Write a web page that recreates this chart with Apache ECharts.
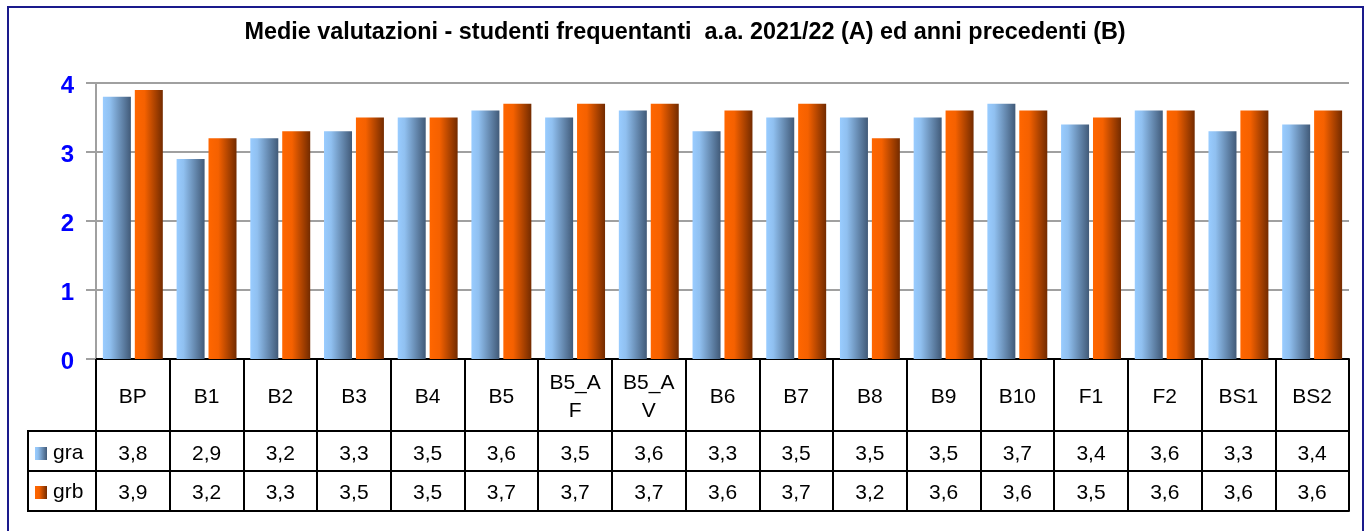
<!DOCTYPE html>
<html>
<head>
<meta charset="utf-8">
<title>Medie valutazioni</title>
<script src="https://cdn.jsdelivr.net/npm/echarts@6/dist/echarts.min.js"></script>
<style>
  html, body { margin: 0; padding: 0; background: #fff; }
  #main { width: 1370px; height: 531px; }
</style>
</head>
<body>
<div id="main"></div>
<script>
const categories = ['BP', 'B1', 'B2', 'B3', 'B4', 'B5', 'B5_AF', 'B5_AV', 'B6', 'B7', 'B8', 'B9', 'B10', 'F1', 'F2', 'BS1', 'BS2'];
const gra = [3.8, 2.9, 3.2, 3.3, 3.5, 3.6, 3.5, 3.6, 3.3, 3.5, 3.5, 3.5, 3.7, 3.4, 3.6, 3.3, 3.4];
const grb = [3.9, 3.2, 3.3, 3.5, 3.5, 3.7, 3.7, 3.7, 3.6, 3.7, 3.2, 3.6, 3.6, 3.5, 3.6, 3.6, 3.6];
const yTicks = [0, 1, 2, 3, 4];

const fmt = (v) => String(v).replace('.', ',');

const blueGrad = new echarts.graphic.LinearGradient(0, 0, 1, 0, [
  { offset: 0, color: '#99CCFF' },
  { offset: 0.25, color: '#90C0F0' },
  { offset: 1, color: '#415A78' }
]);
const orangeGrad = new echarts.graphic.LinearGradient(0, 0, 1, 0, [
  { offset: 0, color: '#FF6600' },
  { offset: 0.35, color: '#F56100' },
  { offset: 1, color: '#732B00' }
]);

const tableLine = { show: true, lineStyle: { color: '#000', width: 2 } };
const cellText = { fontFamily: 'Arial', fontSize: 21, color: '#000', verticalAlign: 'middle' };

const chartDom = document.getElementById('main');
const myChart = echarts.init(chartDom);

const option = {
  animation: false,
  title: {
    text: 'Medie valutazioni - studenti frequentanti  a.a. 2021/22 (A) ed anni precedenti (B)',
    left: 'center',
    top: 16,
    textStyle: { fontFamily: 'Arial', fontWeight: 'bold', fontSize: 23.4, color: '#000' }
  },
  legend: {
    orient: 'vertical',
    left: 30,
    top: 438,
    itemGap: 18,
    itemWidth: 12,
    itemHeight: 13,
    icon: 'rect',
    selectedMode: false,
    textStyle: { fontFamily: 'Arial', fontSize: 21, color: '#000', padding: [0, 0, 0, 1] },
    data: ['gra', 'grb']
  },
  grid: { left: 96, right: 21, top: 83, bottom: 172 },
  xAxis: [
    {
      type: 'category',
      data: categories,
      position: 'bottom',
      axisLine: tableLine,
      axisTick: { show: true, interval: 0, length: 152, lineStyle: { color: '#000', width: 2 } },
      axisLabel: {
        interval: 0, margin: 38, lineHeight: 28, ...cellText,
        formatter: (v) => v.length > 4 ? v.slice(0, 4) + '\n' + v.slice(4) : v
      }
    },
    {
      type: 'category',
      data: gra.map(fmt),
      position: 'bottom',
      offset: 72,
      axisLine: tableLine,
      axisTick: { show: false },
      axisLabel: { interval: 0, margin: 23, ...cellText }
    },
    {
      type: 'category',
      data: grb.map(fmt),
      position: 'bottom',
      offset: 112,
      axisLine: tableLine,
      axisTick: { show: false },
      axisLabel: { interval: 0, margin: 22, ...cellText }
    },
    {
      type: 'category',
      data: categories,
      position: 'bottom',
      offset: 152,
      axisLine: tableLine,
      axisTick: { show: false },
      axisLabel: { show: false }
    }
  ],
  yAxis: {
    type: 'value',
    min: yTicks[0],
    max: yTicks[yTicks.length - 1],
    interval: 1,
    axisLine: { show: true, lineStyle: { color: '#A0A0A0', width: 2 } },
    axisTick: { show: true, length: 10, lineStyle: { color: '#A0A0A0', width: 2 } },
    splitLine: { show: true, lineStyle: { color: '#A0A0A0', width: 2 } },
    axisLabel: {
      margin: 22,
      formatter: (v) => '{v|' + v + '}',
      rich: {
        v: {
          padding: [7, 0, 0, 0],
          fontFamily: 'Arial', fontWeight: 'bold', fontSize: 24, color: '#0000FF'
        }
      }
    }
  },
  series: [
    {
      name: 'gra',
      type: 'bar',
      barWidth: 28,
      barGap: '14%',
      itemStyle: { color: blueGrad },
      data: gra
    },
    {
      name: 'grb',
      type: 'bar',
      barWidth: 28,
      itemStyle: { color: orangeGrad },
      data: grb
    }
  ],
  graphic: [
    {
      type: 'rect',
      shape: { x: 8, y: 7, width: 1355, height: 540 },
      style: { fill: null, stroke: '#1A1A8C', lineWidth: 2 },
      silent: true
    },
    {
      type: 'rect',
      shape: { x: 28, y: 431, width: 68, height: 80 },
      style: { fill: null, stroke: '#000', lineWidth: 2 },
      silent: true
    },
    {
      type: 'line',
      shape: { x1: 28, y1: 471, x2: 96, y2: 471 },
      style: { stroke: '#000', lineWidth: 2 },
      silent: true
    }
  ]
};

myChart.setOption(option);
</script>
</body>
</html>
